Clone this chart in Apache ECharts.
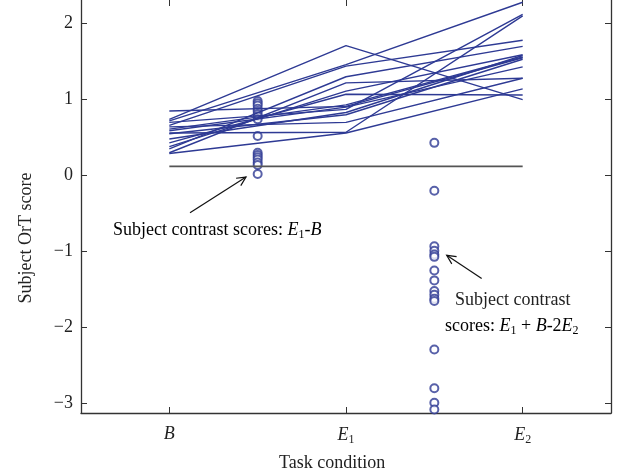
<!DOCTYPE html>
<html>
<head>
<meta charset="utf-8">
<script src="https://cdn.jsdelivr.net/npm/echarts@6/dist/echarts.min.js"></script>
<style>
  html, body { margin: 0; padding: 0; background: #fff; }
  #main { width: 629px; height: 476px; }
</style>
</head>
<body>
<div id="main"></div>
<script>
// 任务条件 (x 位置) 与刻度
const conditions = [1, 2, 3];
const yTicks = [-3, -2, -1, 0, 1, 2];

// 每个受试者在 B, E1, E2 下的得分
const scoreB  = [0.74, 0.72, 0.66, 0.85, 0.35, 0.30, 0.38, 0.43, 0.61, 0.59, 0.70, 0.48, 0.55, 0.64, 0.56, 0.29];
const scoreE1 = [1.71, 1.46, 1.44, 0.91, 1.30, 1.22, 1.11, 1.07, 0.93, 0.90, 0.87, 0.83, 0.80, 0.70, 0.57, 0.56];
const scoreE2 = [1.00, 2.28, 1.78, 1.55, 1.70, 1.28, 1.59, 1.06, 1.56, 1.43, 2.12, 1.58, 1.53, 1.28, 2.10, 1.14];

// 对比得分
const contrastE1B = [0.98, 0.95, 0.92, 0.88, 0.85, 0.81, 0.78, 0.74, 0.52, 0.30, 0.27, 0.24, 0.21, 0.17, 0.14, 0.02];
const contrastE1BE2 = [0.43, -0.20, -0.93, -0.99, -1.04, -1.07, -1.25, -1.38, -1.52, -1.57, -1.62, -1.65, -2.29, -2.80, -2.99, -3.08];
const baseline = 0.12;

const serif = '"Liberation Serif", "DejaVu Serif", serif';
const lineColor = '#2E3A94';
const axisColor = '#333';

const chart = echarts.init(document.getElementById('main'));

const series = [];
for (let i = 0; i < scoreB.length; i++) {
    series.push({
        type: 'line',
        data: [[conditions[0], scoreB[i]], [conditions[1], scoreE1[i]], [conditions[2], scoreE2[i]]],
        symbol: 'none',
        silent: true,
        lineStyle: { color: lineColor, width: 1.4 },
        clip: true
    });
}
series.push({
    type: 'line',
    data: [[conditions[0], baseline], [conditions[2], baseline]],
    symbol: 'none',
    lineStyle: { color: '#555', width: 1.6 }
});
series.push({
    type: 'scatter',
    data: contrastE1B.map(v => [1.5, v]),
    symbol: 'emptyCircle',
    symbolSize: 8,
    itemStyle: { color: lineColor, borderWidth: 1.6 }
});
series.push({
    type: 'scatter',
    data: contrastE1BE2.map(v => [2.5, v]),
    symbol: 'emptyCircle',
    symbolSize: 8,
    itemStyle: { color: lineColor, borderWidth: 1.6 }
});

const richText = {
    n: { fontFamily: serif, fontSize: 18, color: '#222' },
    i: { fontFamily: serif, fontSize: 18, fontStyle: 'italic', color: '#222' },
    s: { fontFamily: serif, fontSize: 12, color: '#222', padding: [9, 0, 0, 0] }
};

const xLabel = function (v) {
    if (v === 1) return '{i|B}';
    if (v === 2) return '{i|E}{s|1}';
    if (v === 3) return '{i|E}{s|2}';
    return '';
};

const option = {
    animation: false,
    backgroundColor: '#fff',
    grid: { left: 81, right: 18, top: -4, bottom: 63 },
    xAxis: [{
        type: 'value',
        min: 0.5,
        max: 3.5,
        position: 'bottom',
        splitLine: { show: false },
        axisLine: { onZero: false, lineStyle: { color: axisColor, width: 1.3 } },
        axisTick: { inside: true, length: 6, customValues: conditions, lineStyle: { color: axisColor } },
        axisLabel: { customValues: conditions, formatter: xLabel, rich: richText, margin: 12 }
    }, {
        type: 'value',
        min: 0.5,
        max: 3.5,
        position: 'top',
        splitLine: { show: false },
        axisLine: { show: false, onZero: false },
        axisTick: { show: true, inside: true, length: 6, customValues: conditions, lineStyle: { color: axisColor } },
        axisLabel: { show: false }
    }],
    yAxis: [{
        type: 'value',
        min: -3.125,
        max: 2.31,
        position: 'left',
        splitLine: { show: false },
        axisLine: { show: true, onZero: false, lineStyle: { color: axisColor, width: 1.3 } },
        axisTick: { show: true, inside: true, length: 6, customValues: yTicks, lineStyle: { color: axisColor } },
        axisLabel: {
            customValues: yTicks,
            margin: 8,
            fontFamily: serif,
            fontSize: 18,
            color: '#222',
            formatter: v => String(v).replace('-', '\u2212')
        }
    }, {
        type: 'value',
        min: -3.125,
        max: 2.31,
        position: 'right',
        splitLine: { show: false },
        axisLine: { show: true, onZero: false, lineStyle: { color: axisColor, width: 1.3 } },
        axisTick: { show: true, inside: true, length: 6, customValues: yTicks, lineStyle: { color: axisColor } },
        axisLabel: { show: false }
    }],
    series: series,
    graphic: [
        {
            type: 'text', left: 279, top: 454,
            style: { text: 'Task condition', font: '18px ' + serif, fill: '#222' }
        },
        {
            type: 'text', x: 26, y: 238, rotation: Math.PI / 2,
            style: { text: 'Subject OrT score', font: '18px ' + serif, fill: '#222', align: 'center', verticalAlign: 'middle' }
        },
        {
            type: 'text', x: 113, y: 230,
            style: { text: '{n|Subject contrast scores: }{i|E}{s|1}{n|-}{i|B}', rich: richText, verticalAlign: 'middle' }
        },
        {
            type: 'text', x: 455, y: 300,
            style: { text: 'Subject contrast', font: '18px ' + serif, fill: '#222', verticalAlign: 'middle' }
        },
        {
            type: 'text', x: 445, y: 326,
            style: { text: '{n|scores: }{i|E}{s|1}{n| + }{i|B}{n|-2}{i|E}{s|2}', rich: richText, verticalAlign: 'middle' }
        }
    ]
};
chart.setOption(option);

// 注释箭头：按数据坐标换算成像素
function arrow(from, to) {
    const p0 = chart.convertToPixel({ gridIndex: 0 }, from);
    const p1 = chart.convertToPixel({ gridIndex: 0 }, to);
    const ang = Math.atan2(p1[1] - p0[1], p1[0] - p0[0]);
    const len = 10, spread = 0.45;
    const a = [p1[0] - len * Math.cos(ang - spread), p1[1] - len * Math.sin(ang - spread)];
    const b = [p1[0] - len * Math.cos(ang + spread), p1[1] - len * Math.sin(ang + spread)];
    return [
        { type: 'line', shape: { x1: p0[0], y1: p0[1], x2: p1[0], y2: p1[1] }, style: { stroke: '#111', lineWidth: 1.2 } },
        { type: 'polyline', shape: { points: [a, p1, b] }, style: { stroke: '#111', lineWidth: 1.2, fill: null } }
    ];
}

const arrows = arrow([1.117, -0.49], [1.434, -0.02]).concat(arrow([2.768, -1.356], [2.57, -1.05]));
chart.setOption({ graphic: option.graphic.concat(arrows) });
</script>
</body>
</html>
